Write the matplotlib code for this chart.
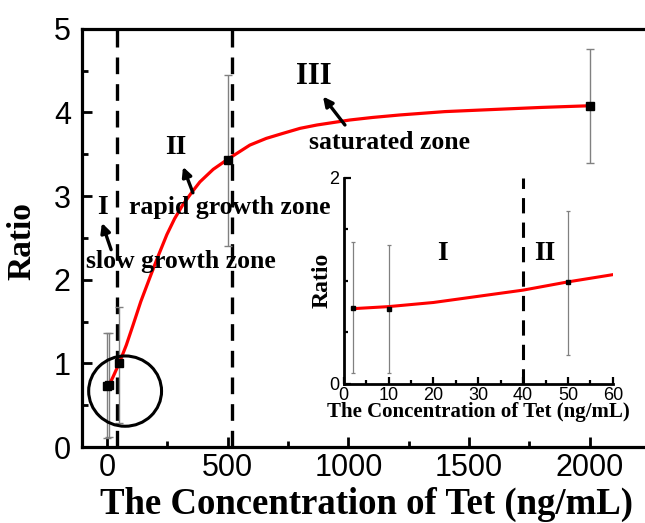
import numpy as np
import matplotlib
matplotlib.use("Agg")
import matplotlib.pyplot as plt
from matplotlib.patches import Ellipse
from matplotlib.ticker import MultipleLocator

# ── data ─────────────────────────────────────────────────────────────────────
conc = [2, 10, 50, 500, 2000]
ratio = [0.73, 0.74, 1.0, 3.43, 4.08]
err_lo = [0.62, 0.62, 0.71, 1.03, 0.68]
err_hi = [0.64, 0.62, 0.68, 1.02, 0.68]

fit_x = [2, 10, 25, 50, 80, 108, 140, 178, 210, 248, 280, 315, 350, 385,
         440, 500, 592, 660, 729, 800, 870, 1007, 1100, 1214, 1400, 1558,
         1800, 2000]
fit_y = [0.73, 0.75, 0.84, 1.0, 1.22, 1.46, 1.74, 2.03, 2.27, 2.54, 2.73,
         2.90, 3.04, 3.17, 3.32, 3.44, 3.61, 3.69, 3.75, 3.81, 3.85, 3.91,
         3.94, 3.97, 4.01, 4.03, 4.06, 4.08]

zone_edges = [40, 520]

ins_conc = [2, 10, 50]
ins_ratio = [0.74, 0.73, 0.99]
ins_lo = [0.63, 0.62, 0.71]
ins_hi = [0.64, 0.62, 0.69]
ins_fit_x = [2, 10, 20, 30, 40, 50, 60]
ins_fit_y = [0.73, 0.75, 0.79, 0.85, 0.91, 0.99, 1.06]

SERIF = "Liberation Serif"
SANS = "Liberation Sans"

fig = plt.figure(figsize=(6.45, 5.23), dpi=100)
fig.patch.set_facecolor("white")

# ── main axes ───────────────────────────────────────────────────────────────
ax = fig.add_axes([0.127, 0.145, 0.905, 0.800])
ax.set_xlim(-104, 2315)
ax.set_ylim(0, 5)

for x0 in zone_edges:
    ax.axvline(x0, color="k", lw=2.4, ls=(0, (5, 3)), zorder=1)

ax.errorbar(conc, ratio, yerr=[err_lo, err_hi], fmt="none", ecolor="#808080",
            elinewidth=1, capsize=3, capthick=1, zorder=2)
ax.plot(fit_x, fit_y, color="red", lw=2.3, zorder=3, solid_joinstyle="round")
ax.plot(conc, ratio, ls="none", marker="s", ms=6, color="k", zorder=4)

ax.add_patch(Ellipse((75, 0.67), 302, 0.84, fill=False, ec="k", lw=2.2, zorder=5))

ax.xaxis.set_major_locator(MultipleLocator(500))
ax.xaxis.set_minor_locator(MultipleLocator(250))
ax.yaxis.set_major_locator(MultipleLocator(1))
ax.yaxis.set_minor_locator(MultipleLocator(0.5))
ax.tick_params(which="both", direction="in", width=2, labelsize=22)
ax.tick_params(which="major", length=7)
ax.tick_params(which="minor", length=4)
ax.tick_params(axis="y", pad=8)
ax.tick_params(axis="x", pad=4)
for lab in ax.get_xticklabels() + ax.get_yticklabels():
    lab.set_fontfamily(SANS)
for sp in ax.spines.values():
    sp.set_linewidth(2.3)
ax.spines["right"].set_visible(False)

ax.set_xlabel("The Concentration of Tet (ng/mL)", family=SERIF, weight="bold",
              fontsize=26.5)
ax.xaxis.set_label_coords(0.488, -0.095)
ax.set_ylabel("Ratio", family=SERIF, weight="bold", fontsize=24)
ax.yaxis.set_label_coords(-0.076, 0.493)

TXT = dict(family=SERIF, weight="bold", ha="center", va="center")
ARW = dict(arrowstyle="-|>", lw=2.4, color="k", mutation_scale=14,
           shrinkA=0, shrinkB=0)

ax.text(-17, 2.87, "I", fontsize=20, **TXT)
ax.annotate("", xy=(-21, 2.68), xytext=(17, 2.36), arrowprops=ARW)
ax.text(306, 2.22, "slow growth zone", fontsize=18.5, **TXT)

ax.text(286, 3.58, "II", fontsize=20, **TXT)
ax.annotate("", xy=(315, 3.35), xytext=(356, 3.04), arrowprops=ARW)
ax.text(510, 2.86, "rapid growth zone", fontsize=18.5, **TXT)

ax.text(855, 4.43, "III", fontsize=22, **TXT)
ax.annotate("", xy=(895, 4.19), xytext=(986, 3.85), arrowprops=ARW)
ax.text(1172, 3.64, "saturated zone", fontsize=18.5, **TXT)

# ── inset ───────────────────────────────────────────────────────────────────
ins = fig.add_axes([0.533, 0.266, 0.417, 0.394])
ins.set_facecolor("white")
ins.set_xlim(0, 60)
ins.set_ylim(0, 2)

ins.axvline(40, color="k", lw=2.2, ls=(0, (5, 3)), zorder=1)
ins.errorbar(ins_conc, ins_ratio, yerr=[ins_lo, ins_hi], fmt="none",
             ecolor="#808080", elinewidth=0.9, capsize=1.5, capthick=0.9,
             zorder=2)
ins.plot(ins_fit_x, ins_fit_y, color="red", lw=2.2, zorder=3)
ins.plot(ins_conc, ins_ratio, ls="none", marker="s", ms=3, color="k", zorder=4)

ins.xaxis.set_major_locator(MultipleLocator(10))
ins.xaxis.set_minor_locator(MultipleLocator(5))
ins.set_yticks([0, 2])
ins.yaxis.set_minor_locator(MultipleLocator(0.5))
ins.tick_params(which="both", direction="in", width=1.6, labelsize=13, pad=2)
ins.tick_params(which="major", length=5)
ins.tick_params(which="minor", length=3)
ins.tick_params(axis="y", pad=3)
for lab in ins.get_xticklabels() + ins.get_yticklabels():
    lab.set_fontfamily(SANS)
for side in ["top", "right"]:
    ins.spines[side].set_visible(False)
for side in ["left", "bottom"]:
    ins.spines[side].set_linewidth(2)

ins.set_xlabel("The Concentration of Tet (ng/mL)", family=SERIF, weight="bold",
               fontsize=15, labelpad=-1)
ins.set_ylabel("Ratio", family=SERIF, weight="bold", fontsize=17, labelpad=-2)

ins.text(21.9, 1.27, "I", fontsize=20, **TXT)
ins.text(44.8, 1.27, "II", fontsize=20, **TXT)

fig.savefig("out.png", dpi=100)
